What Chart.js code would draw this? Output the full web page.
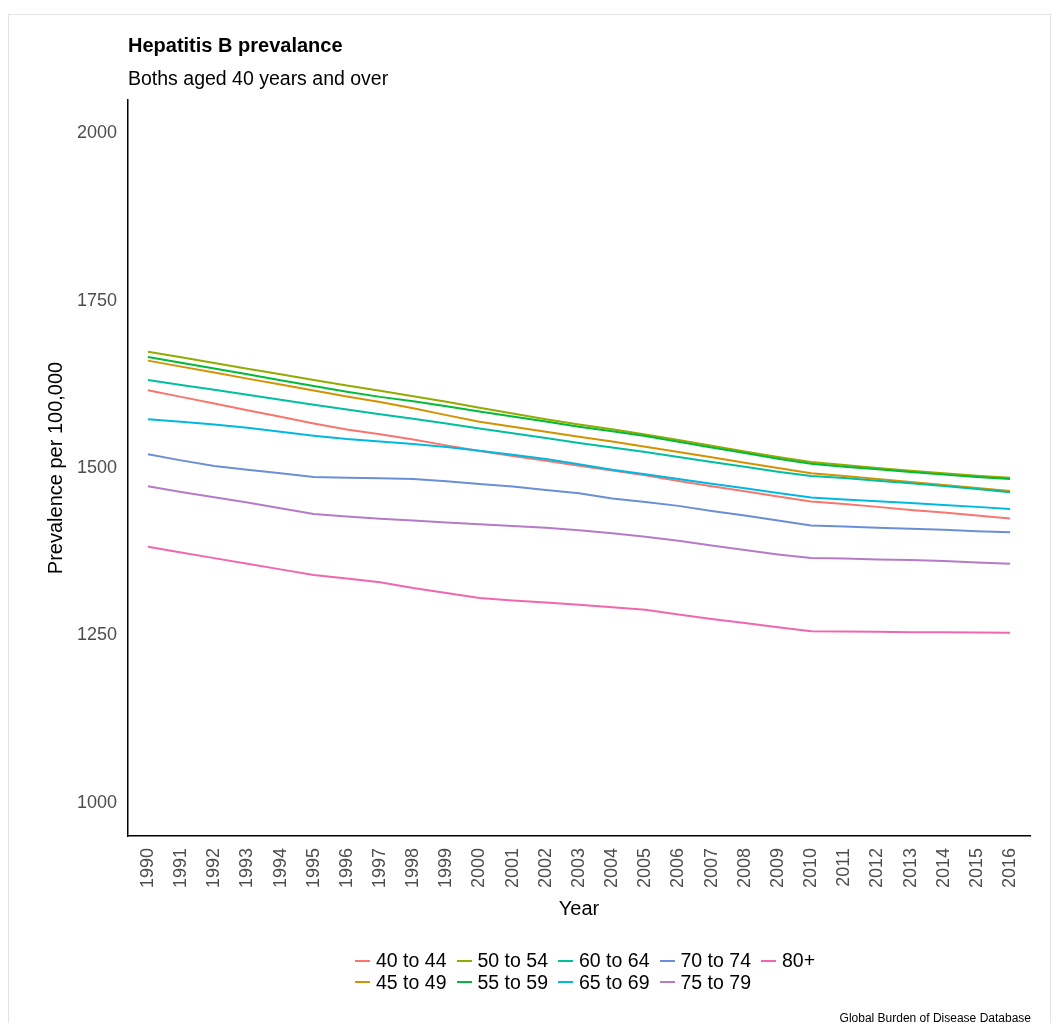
<!DOCTYPE html>
<html lang="en">
<head>
  <meta charset="UTF-8" />
  <title>Hepatitis B prevalance</title>
  <script src="https://cdn.jsdelivr.net/npm/chart.js"></script>
  <style>
    body {
      margin: 0;
      width: 1060px;
      height: 1023px;
      overflow: hidden;
      background: #fff;
      font-family: 'Liberation Sans', Arial, sans-serif;
      position: relative;
    }
    .frame {
      position: absolute;
      left: 8px;
      top: 14px;
      width: 1043px;
      height: 1100px;
      border: 1px solid #e3e3e3;
      box-sizing: border-box;
    }
    canvas {
      position: absolute;
      left: 0;
      top: 0;
    }
    .title {
      position: absolute;
      left: 128px;
      top: 35px;
      font-size: 20px;
      line-height: 20px;
      font-weight: bold;
      color: #000;
      white-space: nowrap;
    }
    .subtitle {
      position: absolute;
      left: 128px;
      top: 69px;
      font-size: 19.5px;
      line-height: 19.5px;
      color: #000;
      white-space: nowrap;
    }
    .caption {
      position: absolute;
      right: 29px;
      top: 1012px;
      font-size: 12px;
      line-height: 12px;
      color: #000;
      white-space: nowrap;
    }
    .legend {
      position: absolute;
      left: 355px;
      top: 950px;
      display: grid;
      grid-template-rows: 21.5px 21.5px;
      grid-auto-columns: 101.5px;
      grid-auto-flow: column;
    }
    .legend .item {
      display: flex;
      align-items: center;
      font-size: 19.5px;
      line-height: 21.5px;
      white-space: nowrap;
    }
    .legend .key {
      width: 15px;
      height: 2px;
      margin-right: 6px;
    }
  </style>
</head>
<body>
  <div class="frame"></div>
  <canvas id="chart" width="1060" height="1023"></canvas>
  <div class="title">Hepatitis B prevalance</div>
  <div class="subtitle">Boths aged 40 years and over</div>
  <div class="legend" id="legend"></div>
  <div class="caption">Global Burden of Disease Database</div>

  <script>
    const years = [1990, 1991, 1992, 1993, 1994, 1995, 1996, 1997, 1998, 1999,
      2000, 2001, 2002, 2003, 2004, 2005, 2006, 2007, 2008, 2009,
      2010, 2011, 2012, 2013, 2014, 2015, 2016];
    const yTicks = [1000, 1250, 1500, 1750, 2000];

    const ageGroups = ['40 to 44', '45 to 49', '50 to 54', '55 to 59', '60 to 64',
      '65 to 69', '70 to 74', '75 to 79', '80+'];

    const age40to44 = [1616.2, 1606.3, 1596.4, 1586.4, 1576.5, 1566.6, 1557.6, 1550.5, 1542.7, 1533.8,
      1525.3, 1517.9, 1510.9, 1503.5, 1496.3, 1489.1, 1480.6, 1472.7, 1465.2, 1457.3,
      1450.0, 1446.3, 1441.9, 1437.4, 1433.4, 1429.0, 1424.5];
    const age45to49 = [1660.5, 1651.5, 1642.6, 1633.6, 1624.7, 1615.7, 1606.8, 1598.6, 1589.4, 1579.0,
      1569.1, 1561.6, 1554.1, 1546.7, 1539.5, 1531.8, 1523.8, 1515.9, 1507.9, 1500.0,
      1492.2, 1488.1, 1483.6, 1479.1, 1474.7, 1470.2, 1465.7];
    const age50to54 = [1673.9, 1665.4, 1657.0, 1648.5, 1640.1, 1631.6, 1623.2, 1615.5, 1607.3, 1598.9,
      1589.9, 1581.5, 1573.0, 1565.1, 1557.8, 1550.2, 1541.7, 1533.3, 1524.8, 1516.4,
      1508.9, 1504.5, 1500.0, 1496.0, 1492.0, 1488.6, 1485.6];
    const age55to59 = [1665.9, 1657.3, 1648.6, 1640.0, 1631.3, 1622.6, 1614.0, 1606.3, 1599.8, 1592.4,
      1584.5, 1577.0, 1569.5, 1561.6, 1554.8, 1547.7, 1539.2, 1530.8, 1522.3, 1513.9,
      1506.5, 1502.0, 1498.0, 1494.0, 1490.1, 1486.6, 1483.6];
    const age60to64 = [1631.6, 1624.2, 1616.9, 1609.5, 1602.1, 1594.7, 1587.4, 1580.5, 1573.7, 1566.5,
      1559.1, 1551.9, 1544.7, 1537.4, 1530.8, 1523.8, 1516.4, 1508.9, 1502.0, 1494.5,
      1488.1, 1485.1, 1481.1, 1477.1, 1473.2, 1468.7, 1463.7];
    const age65to69 = [1573.0, 1569.0, 1565.1, 1560.1, 1554.1, 1548.2, 1543.2, 1539.5, 1535.8, 1531.3,
      1525.8, 1519.9, 1513.4, 1505.5, 1497.5, 1490.6, 1483.6, 1476.6, 1469.7, 1462.7,
      1455.8, 1452.8, 1450.3, 1447.8, 1444.8, 1441.9, 1438.9];
    const age70to74 = [1520.4, 1511.4, 1503.0, 1497.5, 1492.0, 1486.6, 1485.6, 1484.6, 1483.6, 1480.1,
      1476.1, 1472.2, 1467.2, 1462.2, 1454.3, 1449.3, 1443.4, 1435.9, 1428.9, 1421.5,
      1414.2, 1412.6, 1410.6, 1409.1, 1407.6, 1405.6, 1404.1];
    const age75to79 = [1472.7, 1464.2, 1456.3, 1448.3, 1439.9, 1431.4, 1427.5, 1424.2, 1421.5, 1418.5,
      1416.0, 1413.5, 1410.6, 1407.1, 1402.4, 1397.1, 1391.2, 1384.2, 1377.3, 1370.8,
      1365.4, 1364.9, 1363.4, 1362.4, 1360.9, 1358.9, 1356.9];
    const age80plus = [1382.2, 1373.8, 1365.3, 1356.9, 1348.5, 1340.0, 1335.0, 1329.3, 1320.6, 1313.2,
      1305.7, 1301.8, 1298.8, 1295.8, 1291.8, 1288.3, 1280.9, 1274.4, 1268.5, 1262.0,
      1256.1, 1255.6, 1255.1, 1254.6, 1254.6, 1254.1, 1253.6];

    const seriesValues = [age40to44, age45to49, age50to54, age55to59, age60to64,
      age65to69, age70to74, age75to79, age80plus];

    // ggplot-like hue colours
    const colors = ['#F8766D', '#D39200', '#93AA00', '#00BA38', '#00BFA0',
      '#00B9E3', '#6B8FD6', '#B57BC6', '#F067AF'];

    Chart.defaults.font.family = "'Liberation Sans', Arial, sans-serif";

    const datasets = ageGroups.map((name, i) => ({
      label: name,
      data: years.map((yr, j) => ({ x: yr, y: seriesValues[i][j] })),
      borderColor: colors[i],
      backgroundColor: colors[i],
      borderWidth: 2,
      pointRadius: 0,
      tension: 0,
      fill: false,
      // later groups drawn on top, like ggplot
      order: ageGroups.length - i
    }));

    const ctx = document.getElementById('chart').getContext('2d');
    const chart = new Chart(ctx, {
      type: 'line',
      data: { datasets: datasets },
      options: {
        responsive: false,
        animation: false,
        layout: { padding: { top: 100, right: 30, bottom: 97, left: 0 } },
        plugins: {
          legend: { display: false },
          tooltip: { enabled: false }
        },
        scales: {
          x: {
            type: 'linear',
            min: 1989.4,
            max: 2016.6,
            afterBuildTicks: scale => { scale.ticks = years.map(v => ({ value: v })); },
            afterFit: scale => { scale.height = 90; },
            grid: { display: false, drawTicks: false },
            border: { display: true, color: '#000', width: 1.5 },
            ticks: {
              autoSkip: false,
              minRotation: 90,
              maxRotation: 90,
              padding: 12,
              color: '#4D4D4D',
              font: { size: 18 },
              callback: v => String(v)
            },
            title: {
              display: true,
              text: 'Year',
              color: '#000',
              font: { size: 20 },
              padding: { top: 0, bottom: 5 }
            }
          },
          y: {
            type: 'linear',
            min: 950,
            max: 2050,
            afterBuildTicks: scale => { scale.ticks = yTicks.map(v => ({ value: v })); },
            afterFit: scale => { scale.width = 128; },
            grid: { display: false, drawTicks: false },
            border: { display: true, color: '#000', width: 1.5 },
            ticks: {
              padding: 11,
              color: '#4D4D4D',
              font: { size: 18 },
              callback: v => String(v)
            },
            title: {
              display: true,
              text: 'Prevalence per 100,000',
              color: '#000',
              font: { size: 20 },
              padding: { top: 44, bottom: 0 }
            }
          }
        }
      }
    });

    // legend laid out column-wise in two rows, as in the original
    const legendDiv = document.getElementById('legend');
    ageGroups.forEach((name, i) => {
      const item = document.createElement('div');
      item.className = 'item';
      const key = document.createElement('span');
      key.className = 'key';
      key.style.background = colors[i];
      const label = document.createElement('span');
      label.textContent = name;
      item.appendChild(key);
      item.appendChild(label);
      legendDiv.appendChild(item);
    });
  </script>
</body>
</html>
